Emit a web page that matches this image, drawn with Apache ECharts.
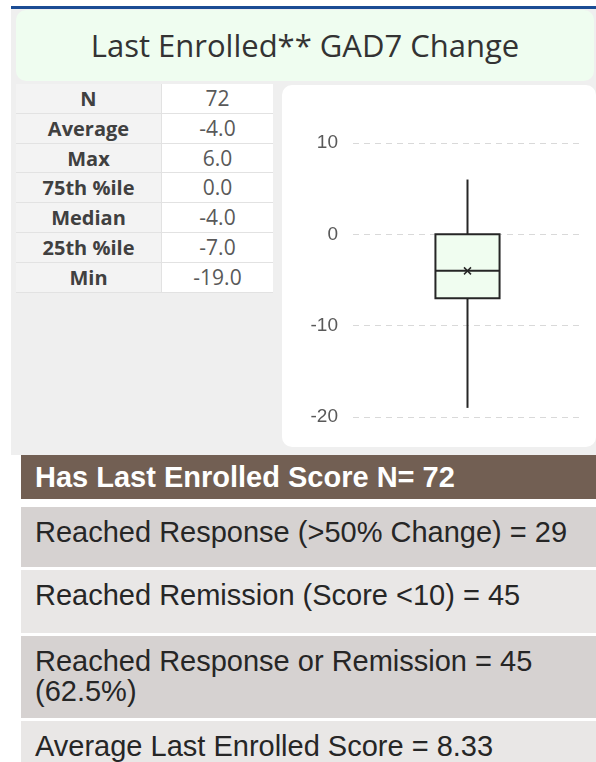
<!DOCTYPE html>
<html>
<head>
<meta charset="utf-8">
<script src="https://cdn.jsdelivr.net/npm/echarts@6/dist/echarts.min.js"></script>
<style>
  html, body { margin: 0; padding: 0; width: 596px; height: 762px; overflow: hidden; background: #fff; }
  .abs { position: absolute; box-sizing: border-box; }
  #topline { left: 11px; top: 6px; width: 585px; height: 3px; background: #1b4c94; }
  #panel { left: 11px; top: 9px; width: 585px; height: 446px; background: #efefef; }
  #title { left: 16px; top: 10px; width: 578px; height: 71px; background: #effdf0; border-radius: 10px;
    font-family: "Open Sans", sans-serif; font-size: 31px; color: #333; text-align: center; line-height: 71px; }
  #stats { left: 16px; top: 84px; width: 257px; font-family: "Open Sans", sans-serif; }
  #stats .row { display: flex; height: 29.8px; border-bottom: 1px solid #e2e2e2; box-sizing: border-box; }
  #stats .lbl { width: 145px; background: #f3f3f3; font-weight: 700; color: #404040; font-size: 20px;
    text-align: center; line-height: 29px; border-right: 1px solid #e2e2e2; }
  #stats .val { flex: 1; background: #fff; color: #595959; font-size: 21px; text-align: center; line-height: 29px; }
  #chartBox { left: 282px; top: 85px; width: 314px; height: 362px; background: #fff; border-radius: 10px; }
  #chart { width: 314px; height: 362px; }
  #summary { left: 21px; top: 455px; width: 575px; font-family: "Liberation Sans", Arial, sans-serif; }
  #summary .head { height: 44px; background: #725f53; color: #fff; font-weight: 700; font-size: 29px;
    line-height: 44px; padding-left: 14px; box-sizing: border-box; }
  #summary .item { color: #262626; font-size: 29px; line-height: 30px; padding: 10px 0 0 14px; box-sizing: border-box; }
</style>
</head>
<body>
<div id="topline" class="abs"></div>
<div id="panel" class="abs"></div>
<div id="title" class="abs">Last Enrolled** GAD7 Change</div>
<div id="stats" class="abs"></div>
<div id="chartBox" class="abs"><div id="chart"></div></div>
<div id="summary" class="abs"></div>

<script>
// stats table
const statLabels = ['N', 'Average', 'Max', '75th %ile', 'Median', '25th %ile', 'Min']
const statValues = ['72', '-4.0', '6.0', '0.0', '-4.0', '-7.0', '-19.0']

// box plot values
const categories = ['GAD7 Change']
const boxMin = [-19]
const boxQ1 = [-7]
const boxMedian = [-4]
const boxQ3 = [0]
const boxMax = [6]
const boxMean = [-4]

// y axis
const yMin = -20
const yMax = 10
const yStep = 10

// summary block
const summaryHead = 'Has Last Enrolled Score N= 72'
const summaryLines = [
  'Reached Response (>50% Change) = 29',
  'Reached Remission (Score <10) = 45',
  'Reached Response or Remission = 45 (62.5%)',
  'Average Last Enrolled Score = 8.33'
]
const summaryHeights = [60, 63, 82, 42]
const summaryColors = ['#d6d2d1', '#e9e7e6', '#d6d2d1', '#e9e7e6']

// build table
const stats = document.getElementById('stats')
statLabels.forEach((l, i) => {
  const row = document.createElement('div')
  row.className = 'row'
  row.innerHTML = '<div class="lbl"></div><div class="val"></div>'
  row.children[0].textContent = l
  row.children[1].textContent = statValues[i]
  stats.appendChild(row)
})

// build summary
const summary = document.getElementById('summary')
const head = document.createElement('div')
head.className = 'head'
head.textContent = summaryHead
summary.appendChild(head)
summaryLines.forEach((t, i) => {
  const d = document.createElement('div')
  d.className = 'item'
  d.style.height = summaryHeights[i] + 'px'
  d.style.background = summaryColors[i]
  d.style.marginTop = (i === 0 ? 8 : 3) + 'px'
  if (i === 2) {
    // wraps after "= 45" like the original
    d.innerHTML = t.replace(' (', '<br>(')
  } else {
    d.textContent = t
  }
  summary.appendChild(d)
})

const chart = echarts.init(document.getElementById('chart'))

const boxData = categories.map((c, i) => [i, boxMin[i], boxQ1[i], boxMedian[i], boxQ3[i], boxMax[i], boxMean[i]])

function renderBox(params, api) {
  const idx = api.value(0)
  const pMin = api.coord([idx, api.value(1)])
  const pQ1 = api.coord([idx, api.value(2)])
  const pMed = api.coord([idx, api.value(3)])
  const pQ3 = api.coord([idx, api.value(4)])
  const pMax = api.coord([idx, api.value(5)])
  const pMean = api.coord([idx, api.value(6)])
  const w = api.size([1, 0])[0] * 0.28
  const cx = pMed[0]
  const line = { stroke: '#262626', lineWidth: 2 }
  const s = 3.5
  return {
    type: 'group',
    children: [
      { type: 'line', shape: { x1: cx, y1: pMax[1], x2: cx, y2: pQ3[1] }, style: line },
      { type: 'line', shape: { x1: cx, y1: pQ1[1], x2: cx, y2: pMin[1] }, style: line },
      { type: 'rect', shape: { x: cx - w / 2, y: pQ3[1], width: w, height: pQ1[1] - pQ3[1] },
        style: { fill: '#f0fdf0', stroke: '#262626', lineWidth: 2 } },
      { type: 'line', shape: { x1: cx - w / 2, y1: pMed[1], x2: cx + w / 2, y2: pMed[1] }, style: line },
      { type: 'line', shape: { x1: pMean[0] - s, y1: pMean[1] - s, x2: pMean[0] + s, y2: pMean[1] + s },
        style: { stroke: '#262626', lineWidth: 1.5 } },
      { type: 'line', shape: { x1: pMean[0] - s, y1: pMean[1] + s, x2: pMean[0] + s, y2: pMean[1] - s },
        style: { stroke: '#262626', lineWidth: 1.5 } }
    ]
  }
}

chart.setOption({
  animation: false,
  grid: { left: 71, right: 14, top: 58, bottom: 30 },
  xAxis: {
    type: 'category',
    data: categories,
    axisLine: { show: false },
    axisTick: { show: false },
    axisLabel: { show: false }
  },
  yAxis: {
    type: 'value',
    min: yMin,
    max: yMax,
    interval: yStep,
    axisLine: { show: false },
    axisTick: { show: false },
    axisLabel: { color: '#595959', fontSize: 19, fontFamily: 'Liberation Sans', margin: 15 },
    splitLine: { lineStyle: { color: '#d9d9d9', width: 1, type: [6, 5] } }
  },
  series: [{
    type: 'custom',
    renderItem: renderBox,
    encode: { x: 0, y: [1, 2, 3, 4, 5, 6] },
    data: boxData
  }]
})
</script>
</body>
</html>
